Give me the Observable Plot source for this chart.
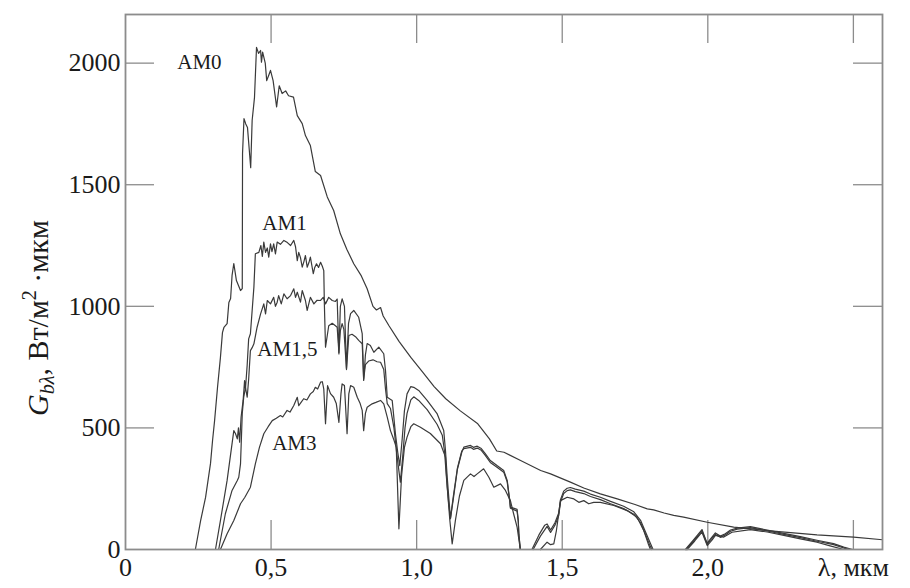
<!DOCTYPE html>
<html><head><meta charset="utf-8">
<script src="https://cdn.jsdelivr.net/npm/d3@7"></script>
<script src="https://cdn.jsdelivr.net/npm/@observablehq/plot@0.6"></script>
<style>body{margin:0;background:#fff}</style>
</head><body><div id="chart"></div>
<script>
// wavelength (мкм), spectral irradiance (Вт/м²·мкм); null = gap in curve
const am0 = [[0.240,0],[0.258,119],[0.275,214],[0.292,354],[0.299,448],[0.306,530],[0.316,666],[0.326,789],[0.333,892],[0.338,913],[0.349,929],[0.355,1016],[0.361,1032],[0.366,1127],[0.372,1176],[0.381,1106],[0.388,1086],[0.395,1065],[0.401,1073],[0.402,1628],[0.407,1772],[0.413,1750],[0.419,1735],[0.430,1570],[0.435,1765],[0.443,1858],[0.450,2065],[0.457,2040],[0.464,2052],[0.467,2004],[0.471,2045],[0.480,2000],[0.485,1928],[0.492,1950],[0.498,1970],[0.507,1928],[0.519,1820],[0.528,1907],[0.538,1875],[0.550,1886],[0.560,1866],[0.577,1860],[0.590,1784],[0.607,1751],[0.618,1702],[0.635,1661],[0.652,1554],[0.670,1538],[0.693,1450],[0.715,1394],[0.738,1298],[0.760,1235],[0.784,1175],[0.810,1125],[0.830,1072],[0.850,1000],[0.862,985],[0.876,995],[0.885,960],[0.905,920],[0.940,855],[0.980,790],[1.020,730],[1.060,670],[1.100,620],[1.150,570],[1.210,517],[1.250,455],[1.275,405],[1.300,400],[1.357,366],[1.426,325],[1.460,311],[1.528,277],[1.574,253],[1.631,229],[1.689,208],[1.750,185],[1.792,167],[1.814,163],[1.850,150],[1.883,140],[1.917,133],[1.998,112],[2.089,92],[2.204,78],[2.375,60],[2.501,51],[2.600,40]];

const am1 = [[0.309,0],[0.326,119],[0.349,284],[0.372,489],[0.378,476],[0.384,455],[0.388,500],[0.392,441],[0.397,544],[0.404,613],[0.409,695],[0.412,660],[0.418,760],[0.423,866],[0.429,887],[0.435,983],[0.441,1079],[0.446,1216],[0.458,1222],[0.465,1250],[0.470,1205],[0.475,1264],[0.481,1222],[0.487,1240],[0.492,1202],[0.498,1257],[0.503,1225],[0.509,1257],[0.515,1216],[0.521,1264],[0.532,1255],[0.544,1271],[0.556,1262],[0.567,1250],[0.578,1271],[0.584,1245],[0.590,1188],[0.595,1222],[0.601,1200],[0.607,1161],[0.613,1185],[0.618,1209],[0.624,1161],[0.630,1180],[0.635,1202],[0.645,1134],[0.650,1160],[0.656,1175],[0.663,1160],[0.670,1181],[0.676,1165],[0.681,1147],[0.683,1011],[0.687,832],[0.693,880],[0.698,920],[0.710,930],[0.721,920],[0.727,914],[0.733,810],[0.738,900],[0.744,929],[0.750,905],[0.759,740],[0.767,880],[0.778,885],[0.790,875],[0.801,860],[0.813,846],[0.818,700],[0.824,760],[0.835,775],[0.850,780],[0.864,772],[0.876,770],[0.887,740],[0.893,660],[0.899,600],[0.910,580],[0.922,500],[0.933,380],[0.944,277],[0.952,380],[0.960,500],[0.967,560],[0.980,615],[0.990,628],[1.007,613],[1.036,575],[1.070,515],[1.088,470],[1.096,400],[1.102,300],[1.110,190],[1.116,127],[1.125,200],[1.140,330],[1.155,400],[1.162,421],[1.185,428],[1.195,420],[1.208,425],[1.222,415],[1.235,395],[1.253,366],[1.276,345],[1.299,325],[1.311,284],[1.320,200],[1.322,174],[1.345,165],[1.349,120],[1.351,66],[1.356,0],null,[1.396,0],[1.420,60],[1.440,100],[1.448,105],[1.460,80],[1.475,110],[1.488,150],[1.494,205],[1.505,240],[1.517,252],[1.528,255],[1.545,248],[1.574,240],[1.597,228],[1.631,215],[1.666,198],[1.711,178],[1.746,155],[1.769,120],[1.785,75],[1.803,25],[1.812,0],null,[1.923,0],[1.951,40],[1.980,82],[1.990,50],[1.998,26],[2.010,45],[2.026,68],[2.043,55],[2.060,65],[2.078,80],[2.101,88],[2.146,94],[2.204,80],[2.261,66],[2.318,53],[2.375,38],[2.432,24],[2.467,10],[2.497,0]];

const am15 = [[0.320,0],[0.343,147],[0.366,243],[0.384,284],[0.389,297],[0.395,352],[0.401,558],[0.406,626],[0.412,667],[0.418,626],[0.423,700],[0.429,818],[0.435,830],[0.441,846],[0.452,914],[0.464,969],[0.475,1010],[0.481,969],[0.487,1024],[0.498,1010],[0.509,1037],[0.515,1000],[0.521,1017],[0.526,1044],[0.535,1010],[0.544,1051],[0.555,1031],[0.567,1044],[0.578,1072],[0.584,1037],[0.590,1058],[0.601,1017],[0.607,1065],[0.618,1024],[0.624,983],[0.635,1037],[0.647,1010],[0.658,1025],[0.670,1024],[0.679,1037],[0.687,1010],[0.698,1037],[0.710,1024],[0.721,1020],[0.727,1030],[0.733,804],[0.738,1000],[0.744,1031],[0.752,1000],[0.759,744],[0.766,930],[0.773,970],[0.784,983],[0.801,955],[0.813,888],[0.818,695],[0.824,800],[0.830,847],[0.841,839],[0.853,811],[0.870,832],[0.887,805],[0.893,736],[0.899,626],[0.916,613],[0.927,477],[0.935,400],[0.942,345],[0.950,450],[0.958,570],[0.967,640],[0.980,670],[0.990,667],[1.007,654],[1.036,613],[1.070,559],[1.093,489],[1.099,407],[1.105,297],[1.116,127],[1.125,210],[1.140,335],[1.155,405],[1.162,415],[1.185,420],[1.195,412],[1.208,417],[1.222,408],[1.235,388],[1.253,358],[1.276,338],[1.299,318],[1.311,278],[1.320,195],[1.322,170],[1.345,158],[1.349,115],[1.351,60],[1.356,0],null,[1.400,0],[1.425,55],[1.448,95],[1.460,70],[1.475,100],[1.488,140],[1.494,195],[1.505,230],[1.517,242],[1.528,245],[1.545,238],[1.574,230],[1.597,218],[1.631,205],[1.666,188],[1.711,168],[1.746,145],[1.769,110],[1.785,65],[1.800,20],[1.808,0],null,[1.926,0],[1.951,35],[1.980,76],[1.990,45],[1.998,20],[2.010,40],[2.026,62],[2.043,50],[2.060,60],[2.078,75],[2.101,84],[2.146,90],[2.204,76],[2.261,62],[2.318,49],[2.375,34],[2.432,20],[2.467,6],[2.490,0]];

const am3 = [[0.326,0],[0.349,65],[0.372,119],[0.395,188],[0.410,215],[0.429,256],[0.446,352],[0.460,420],[0.475,476],[0.490,505],[0.504,530],[0.518,540],[0.532,551],[0.540,545],[0.555,572],[0.565,565],[0.578,592],[0.590,626],[0.595,592],[0.603,605],[0.612,620],[0.623,615],[0.635,640],[0.645,650],[0.652,667],[0.660,660],[0.670,688],[0.676,690],[0.681,660],[0.687,517],[0.694,674],[0.704,641],[0.715,626],[0.724,600],[0.733,523],[0.740,640],[0.744,681],[0.752,674],[0.761,476],[0.767,640],[0.773,674],[0.784,667],[0.796,626],[0.806,600],[0.813,572],[0.818,489],[0.824,560],[0.830,585],[0.847,599],[0.860,605],[0.876,613],[0.887,599],[0.899,544],[0.910,489],[0.922,450],[0.930,420],[0.939,85],[0.948,300],[0.958,420],[0.967,462],[0.980,505],[0.990,517],[1.013,503],[1.047,477],[1.082,435],[1.099,380],[1.105,256],[1.114,120],[1.122,23],[1.133,119],[1.147,220],[1.162,284],[1.185,311],[1.197,300],[1.208,311],[1.230,332],[1.248,297],[1.265,256],[1.288,270],[1.305,243],[1.322,201],[1.333,147],[1.345,92],[1.356,0],null,[1.425,0],[1.448,30],[1.460,20],[1.471,23],[1.480,78],[1.494,201],[1.517,215],[1.540,208],[1.557,194],[1.574,201],[1.591,188],[1.608,194],[1.631,194],[1.677,181],[1.723,160],[1.757,133],[1.780,78],[1.795,25],[1.803,0],null,[1.929,0],[1.955,35],[1.980,71],[1.998,16],[2.015,40],[2.026,58],[2.055,51],[2.083,71],[2.146,82],[2.204,72],[2.261,58],[2.318,44],[2.375,30],[2.420,15],[2.467,0]];

const seriesNames = ["AM0", "AM1", "AM1,5", "AM3"];
const seriesData = [am0, am1, am15, am3];
const curveLabels = ["AM0", "AM1", "AM1,5", "AM3"];
const labelX = [0.254, 0.546, 0.556, 0.580];
const labelY = [2002, 1340, 822, 436];

const xTicks = [0, 0.5, 1.0, 1.5, 2.0, 2.5];
const xTickLabels = ["0", "0,5", "1,0", "1,5", "2,0", "λ, мкм"];
const yTicks = [0, 500, 1000, 1500, 2000];
const yTickLabels = ["0", "500", "1000", "1500", "2000"];

const rows = [];
seriesData.forEach((arr, i) => arr.forEach(p => {
  rows.push(p ? {x: p[0], y: p[1], s: seriesNames[i]} : {x: NaN, y: NaN, s: seriesNames[i]});
}));
const labelRows = curveLabels.map((t, i) => ({t, x: labelX[i], y: labelY[i]}));

const W = 910, H = 588, mL = 125, mR = 28, mT = 14, mB = 39;
const innerW = W - mL - mR, innerH = H - mT - mB, tickLen = 29;
const frameColor = "#8c8c8c", lineColor = "#3a3a3a";
const inX = xTicks.filter(d => d > 0), inY = yTicks.filter(d => d > 0);

const plot = Plot.plot({
  width: W, height: H,
  marginLeft: mL, marginRight: mR, marginTop: mT, marginBottom: mB,
  style: {fontFamily: "'Liberation Serif', 'Times New Roman', serif", color: "#1a1a1a", background: "#fff"},
  x: {domain: [0, 2.6]},
  y: {domain: [0, 2200]},
  marks: [
    Plot.ruleX(inX, {x: d => d, insetTop: innerH - tickLen, stroke: frameColor, strokeWidth: 1.3}),
    Plot.ruleX(inX, {x: d => d, insetBottom: innerH - tickLen, stroke: frameColor, strokeWidth: 1.3}),
    Plot.ruleY(inY, {y: d => d, insetRight: innerW - tickLen, stroke: frameColor, strokeWidth: 1.3}),
    Plot.ruleY(inY, {y: d => d, insetLeft: innerW - tickLen, stroke: frameColor, strokeWidth: 1.3}),
    Plot.line(rows, {x: "x", y: "y", z: "s", stroke: lineColor, strokeWidth: 1.2, strokeLinejoin: "round"}),
    Plot.frame({stroke: frameColor, strokeWidth: 1.8}),
    Plot.axisX(xTicks, {tickSize: 0, tickPadding: 8, fontSize: 26, tickFormat: d => xTickLabels[xTicks.indexOf(d)], label: null}),
    Plot.axisY(yTicks, {tickSize: 0, tickPadding: 5, fontSize: 26, tickFormat: d => yTickLabels[yTicks.indexOf(d)], label: null}),
    Plot.text(labelRows, {x: "x", y: "y", text: "t", fontSize: 21, fill: "#1a1a1a"})
  ]
});

const svg = d3.select(plot);
const t = svg.append("text")
  .attr("transform", "translate(48,318) rotate(-90)")
  .attr("text-anchor", "middle")
  .attr("font-size", 30)
  .attr("fill", "#1a1a1a");
t.append("tspan").attr("font-style", "italic").text("G");
t.append("tspan").attr("font-style", "italic").attr("font-size", 20).attr("dy", 6).text("bλ");
t.append("tspan").attr("dy", -6).text(", Вт/м");
t.append("tspan").attr("font-size", 20).attr("dy", -12).text("2");
t.append("tspan").attr("dy", 12).text(" ·мкм");

document.getElementById("chart").appendChild(plot);
</script>
</body></html>
